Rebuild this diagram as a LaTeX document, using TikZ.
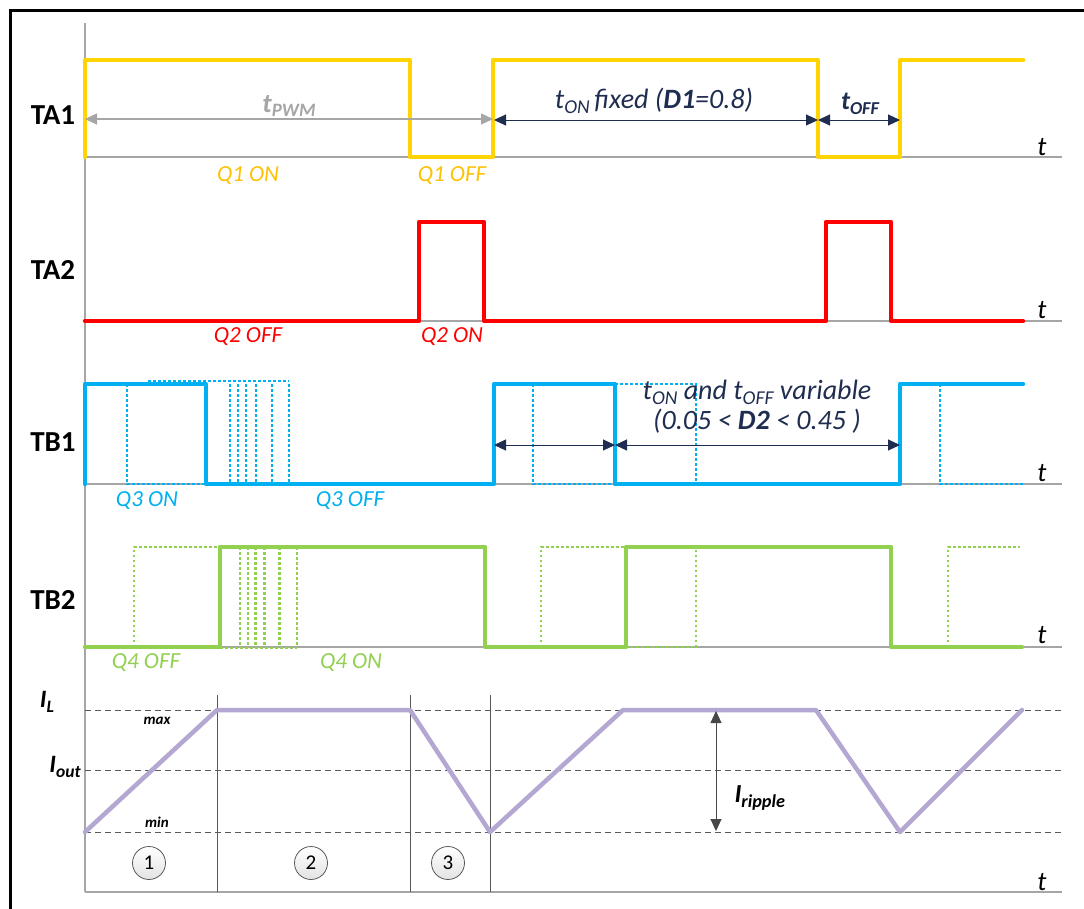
\documentclass[tikz,border=0pt]{standalone}
\usepackage{fontspec}
\setmainfont{Carlito}
\usetikzlibrary{arrows.meta}
\definecolor{cyel}{RGB}{255,212,0}
\definecolor{cyeltxt}{RGB}{255,192,0}
\definecolor{cred}{RGB}{255,0,0}
\definecolor{cblue}{RGB}{0,176,240}
\definecolor{cgreen}{RGB}{146,208,80}
\definecolor{clav}{RGB}{180,168,210}
\definecolor{cnavy}{RGB}{31,45,80}
\definecolor{cgray}{RGB}{166,166,166}
\definecolor{cdgray}{RGB}{89,89,89}
\newcommand\mysub[1]{\raisebox{-0.35ex}{\scalebox{0.7}{#1}}}
\tikzset{
  wave/.style={line width=4.5pt, line join=round, line cap=round},
  dotw/.style={line width=2.5pt, dash pattern=on 2.5pt off 2.5pt},
  baseln/.style={cgray, line width=1.5pt},
  qlbl/.style={font=\fontsize{23}{25}\selectfont\itshape},
  sig/.style={font=\fontsize{29}{31}\selectfont\bfseries},
  tlab/.style={font=\fontsize{27}{28}\selectfont\itshape},
  dimar/.style={cnavy, line width=1pt, {Triangle[length=12pt,width=11pt]}-{Triangle[length=12pt,width=11pt]}},
  grayar/.style={cgray, line width=1.2pt, {Triangle[length=12pt,width=11pt]}-{Triangle[length=12pt,width=11pt]}},
  ripar/.style={cdgray!80!black, line width=1pt, {Triangle[length=12pt,width=11pt]}-{Triangle[length=12pt,width=11pt]}},
  ildash/.style={cdgray, line width=1pt, dash pattern=on 6pt off 4pt},
  sepln/.style={cdgray, line width=1pt},
  numc/.style={circle, draw=cdgray, line width=0.8pt, top color=white, bottom color=gray!22, minimum size=33pt, inner sep=0pt, font=\fontsize{21}{22}\selectfont},
}
\begin{document}
\begin{tikzpicture}[x=1pt,y=-1pt]
\useasboundingbox (0,0) rectangle (1084,908);
\clip (0,0) rectangle (1084,908);
% frame
\draw[line width=3pt] (10,1000) -- (10,10) -- (1200,10);
% axis
\draw[baseln] (85,23) -- (85,892);
% baselines
\foreach \y in {157,321,484,647,892} \draw[baseln] (85,\y) -- (1062,\y);
% IL grid
\draw[ildash] (85,710) -- (1062,710);
\draw[ildash] (85,770) -- (1062,770);
\draw[ildash] (85,832) -- (1062,832);
\foreach \x in {217,410,490} \draw[sepln] (\x,695) -- (\x,892);

% TA1
\draw[wave,cyel] (85,157) -- (85,60) -- (410,60) -- (410,157) -- (493,157) -- (493,60) -- (818,60) -- (818,157) -- (900,157) -- (900,60) -- (1023,60);
% TA2
\draw[wave,cred] (85,321) -- (419,321) -- (419,222) -- (484,222) -- (484,321) -- (826,321) -- (826,222) -- (891,222) -- (891,321) -- (1023,321);

% TB1 dotted
\begin{scope}[dotw,cblue]
\draw (127,384) -- (127,484) -- (206,484);
\draw (148,381) -- (289,381);
\foreach \x in {230,238,246,256,272,289} \draw (\x,384) -- (\x,484);
\draw (533,384) -- (533,484) -- (615,484);
\draw (615,384) -- (696,384) -- (696,484);
\draw (940,384) -- (940,484) -- (1023,484);
\end{scope}
\draw[wave,cblue] (85,484) -- (85,384) -- (206,384) -- (206,484) -- (494,484) -- (494,384) -- (615,384) -- (615,484) -- (900,484) -- (900,384) -- (1023,384);

% TB2 dotted
\begin{scope}[dotw,cgreen]
\draw (134,647) -- (134,547) -- (220,547);
\draw (220,648) -- (297,648);
\foreach \x in {240,248,255.5,264.5,279.6,297} \draw (\x,547) -- (\x,647);
\draw (541,647) -- (541,547) -- (626,547);
\draw (626,647) -- (696,647) -- (696,547);
\draw (948,647) -- (948,547) -- (1020,547);
\end{scope}
\draw[wave,cgreen] (85,647) -- (220,647) -- (220,547) -- (485,547) -- (485,647) -- (626,647) -- (626,547) -- (891,547) -- (891,647) -- (1022,647);

% IL
\draw[wave,clav] (85,832) -- (217,710) -- (410,710) -- (490,832) -- (623,710) -- (816,710) -- (900,832) -- (1022,710);

% dimension coordinates
\coordinate (pa) at (85,119);
\coordinate (pb) at (493,119);
\coordinate (oa) at (494,120);
\coordinate (ob) at (818,120);
\coordinate (oc) at (900,120);
\coordinate (va) at (494,445);
\coordinate (vb) at (615,445);
\coordinate (vc) at (900,445);
\coordinate (ra) at (716,711);
\coordinate (rb) at (716,831);
\draw[grayar] (pa) -- (pb);
\draw[dimar] (oa) -- (ob);
\draw[dimar] (ob) -- (oc);
\draw[dimar] (va) -- (vb);
\draw[dimar] (vb) -- (vc);
\draw[ripar] (ra) -- (rb);

% signal names
\node[sig] (nTA1) at (53,115) {TA1};
\node[sig] (nTA2) at (53,270) {TA2};
\node[sig] (nTB1) at (53,442) {TB1};
\node[sig] (nTB2) at (53,600) {TB2};

% t labels
\foreach \y/\n in {147/t1,310/t2,473/t3,635/t4,882/t5} \node[tlab] (\n) at (1042,\y) {t};

% Q labels
\node[qlbl,cyeltxt] (q1on) at (248,176) {Q1 ON};
\node[qlbl,cyeltxt] (q1off) at (452,176) {Q1 OFF};
\node[qlbl,cred] (q2off) at (248,337) {Q2 OFF};
\node[qlbl,cred] (q2on) at (452,337) {Q2 ON};
\node[qlbl,cblue] (q3on) at (147,501) {Q3 ON};
\node[qlbl,cblue] (q3off) at (350,501) {Q3 OFF};
\node[qlbl,cgreen] (q4off) at (146,663) {Q4 OFF};
\node[qlbl,cgreen] (q4on) at (351,663) {Q4 ON};

% dimension labels
\node[cgray, font=\fontsize{27}{28}\selectfont\bfseries\itshape] (tpwm) at (289,106) {t\mysub{PWM}};
\node[cnavy, font=\fontsize{28}{30}\selectfont\itshape] (tonfix) at (654,101) {t\mysub{ON}\,fixed (\textbf{D1}=0.8)};
\node[cnavy, font=\fontsize{26}{28}\selectfont\bfseries\itshape] (toff) at (860,104) {t\mysub{OFF}};
\node[cnavy, font=\fontsize{28}{30}\selectfont\itshape, align=center, inner sep=0pt] (tvar) at (757,407) {t\mysub{ON} and t\mysub{OFF} variable\\[0pt] (0.05 < \textbf{D2} < 0.45 )};

% IL labels
\node[font=\fontsize{25}{26}\selectfont\bfseries\itshape] (il) at (47,702) {I\mysub{L}};
\node[font=\fontsize{15}{17}\selectfont\bfseries\itshape] (mx) at (157,721) {max};
\node[font=\fontsize{25}{26}\selectfont\bfseries\itshape] (iout) at (65,767) {I\mysub{out}};
\node[font=\fontsize{15}{17}\selectfont\bfseries\itshape] (mn) at (157,822) {min};
\node[font=\fontsize{26}{28}\selectfont\bfseries\itshape, anchor=west] (irip) at (731,798) {I\mysub{ripple}};

\node[numc] (c1) at (149,863) {1};
\node[numc] (c2) at (311,863) {2};
\node[numc] (c3) at (448,863) {3};
\end{tikzpicture}
\end{document}
